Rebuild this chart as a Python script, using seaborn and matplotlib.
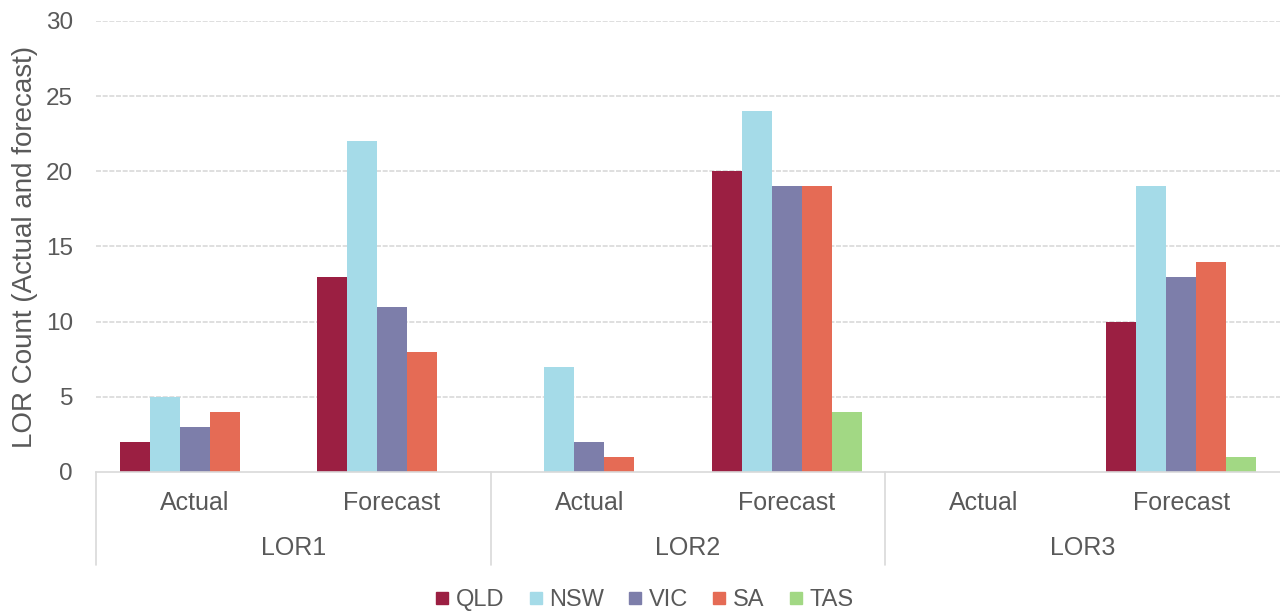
import matplotlib
matplotlib.use("Agg")
import matplotlib.pyplot as plt
from matplotlib.lines import Line2D
import seaborn as sns
import pandas as pd

# Data
levels = ["LOR1", "LOR2", "LOR3"]
kinds = ["Actual", "Forecast"]
regions = ["QLD", "NSW", "VIC", "SA", "TAS"]
qld = [2, 13, 0, 20, 0, 10]
nsw = [5, 22, 7, 24, 0, 19]
vic = [3, 11, 2, 19, 0, 13]
sa = [4, 8, 1, 19, 0, 14]
tas = [0, 0, 0, 4, 0, 1]
y_ticks = [0, 5, 10, 15, 20, 25, 30]
y_label = "LOR Count (Actual and forecast)"

colors = ["#9B1F42", "#A5DBE8", "#7D7EAA", "#E56B55", "#A2D884"]

groups = [f"{lv} {k}" for lv in levels for k in kinds]
rows = []
for reg, vals in zip(regions, [qld, nsw, vic, sa, tas]):
    for g, v in zip(groups, vals):
        rows.append({"group": g, "region": reg, "count": v})
df = pd.DataFrame(rows)

sns.set_theme(style="white")
plt.rcParams["font.family"] = ["Liberation Sans", "DejaVu Sans"]
text_col = "#595959"
line_col = "#D9D9D9"

fig = plt.figure(figsize=(12.8, 6.14), dpi=100)
ax = fig.add_axes([0.075, 0.2313, 0.925, 0.7345])

sns.barplot(data=df, x="group", y="count", hue="region", order=groups,
            hue_order=regions, palette=colors, width=0.76, linewidth=0,
            saturation=1, ax=ax, legend=False)

ax.set_ylim(0, 30)
ax.set_xlim(-0.5, len(groups) - 0.5)
ax.set_yticks(y_ticks)
ax.set_yticklabels([str(t) for t in y_ticks], fontsize=17.5, color=text_col)
ax.tick_params(axis="y", length=0, pad=16.5)
ax.set_xticks([])
ax.set_xlabel("")
ax.set_ylabel(y_label, fontsize=20, color=text_col)
ax.yaxis.set_label_coords(-0.049, 0.5)

for t in y_ticks[1:]:
    ax.axhline(t, color=line_col, lw=1.2, ls=(0, (3, 1)), zorder=0)

for s in ["top", "right", "left"]:
    ax.spines[s].set_visible(False)
ax.spines["bottom"].set_color(line_col)
ax.spines["bottom"].set_linewidth(1.2)

trans = ax.get_xaxis_transform()
# Category labels: inner (Actual / Forecast) and outer (LOR level)
for i, g in enumerate(groups):
    ax.text(i, -0.0687, g.split()[1], transform=trans, ha="center",
            va="center", fontsize=18, color=text_col)
for j, lv in enumerate(levels):
    ax.text(2 * j + 0.5, -0.1685, lv, transform=trans, ha="center",
            va="center", fontsize=18, color=text_col)
# Group separators
for xs in [-0.5, 1.5, 3.5]:
    ax.plot([xs, xs], [0, -0.206], transform=trans, color=line_col, lw=1.2,
            clip_on=False)

handles = [Line2D([0], [0], marker="s", ls="", markersize=8,
                  markerfacecolor=c, markeredgecolor=c) for c in colors]
fig.legend(handles, regions, loc="center", bbox_to_anchor=(0.504, 0.022),
           ncol=5, frameon=False, fontsize=17, handlelength=0.45,
           handletextpad=0.35, columnspacing=1.1, labelcolor=text_col)

fig.savefig("out.png", dpi=100)
